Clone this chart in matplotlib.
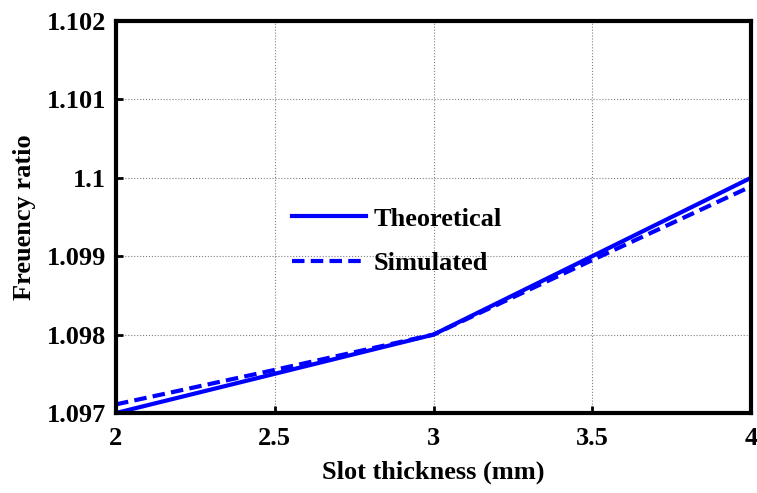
import matplotlib
matplotlib.use('Agg')
import matplotlib.pyplot as plt

# values
thickness = [2, 2.5, 3, 3.5, 4]
theoretical = [1.097, 1.0975, 1.098, 1.099, 1.100]
simulated = [1.09711, 1.09755, 1.098, 1.09895, 1.09989]

xticks = [2, 2.5, 3, 3.5, 4]
xticklabels = ['2', '2.5', '3', '3.5', '4']
yticks = [1.097, 1.098, 1.099, 1.100, 1.101, 1.102]
yticklabels = ['1.097', '1.098', '1.099', '1.1', '1.101', '1.102']

plt.rcParams['font.family'] = ['Liberation Serif', 'DejaVu Serif']
plt.rcParams['font.weight'] = 'bold'

fig = plt.figure(figsize=(7.57, 4.93), dpi=100)
ax = fig.add_axes([116 / 757, 80 / 493, 635 / 757, 392 / 493])

ax.plot(thickness, theoretical, color='#0000ff', lw=3, label='Theoretical')
ax.plot(thickness, simulated, color='#0000ff', lw=3, ls=(0, (3, 1.5)), label='Simulated')

ax.set_xlim(2, 4)
ax.set_ylim(1.097, 1.102)
ax.set_xticks(xticks)
ax.set_xticklabels(xticklabels)
ax.set_yticks(yticks)
ax.set_yticklabels(yticklabels)
ax.grid(True, color='#808080', ls=':', lw=0.8)
ax.tick_params(direction='in', length=5, width=2, labelsize=19)
ax.tick_params(axis='x', pad=10)
ax.tick_params(axis='y', pad=7)
for s in ax.spines.values():
    s.set_linewidth(3)

ax.set_xlabel('Slot thickness (mm)', fontsize=19, fontweight='bold', labelpad=8)
ax.set_ylabel('Freuency ratio', fontsize=19, fontweight='bold', labelpad=8)

leg = ax.legend(loc='upper left', bbox_to_anchor=(0.277, 0.525), frameon=False,
                borderpad=0, borderaxespad=0, fontsize=19, handlelength=2.8,
                handletextpad=0.3, labelspacing=0.8)

fig.savefig('out.png', dpi=100)
